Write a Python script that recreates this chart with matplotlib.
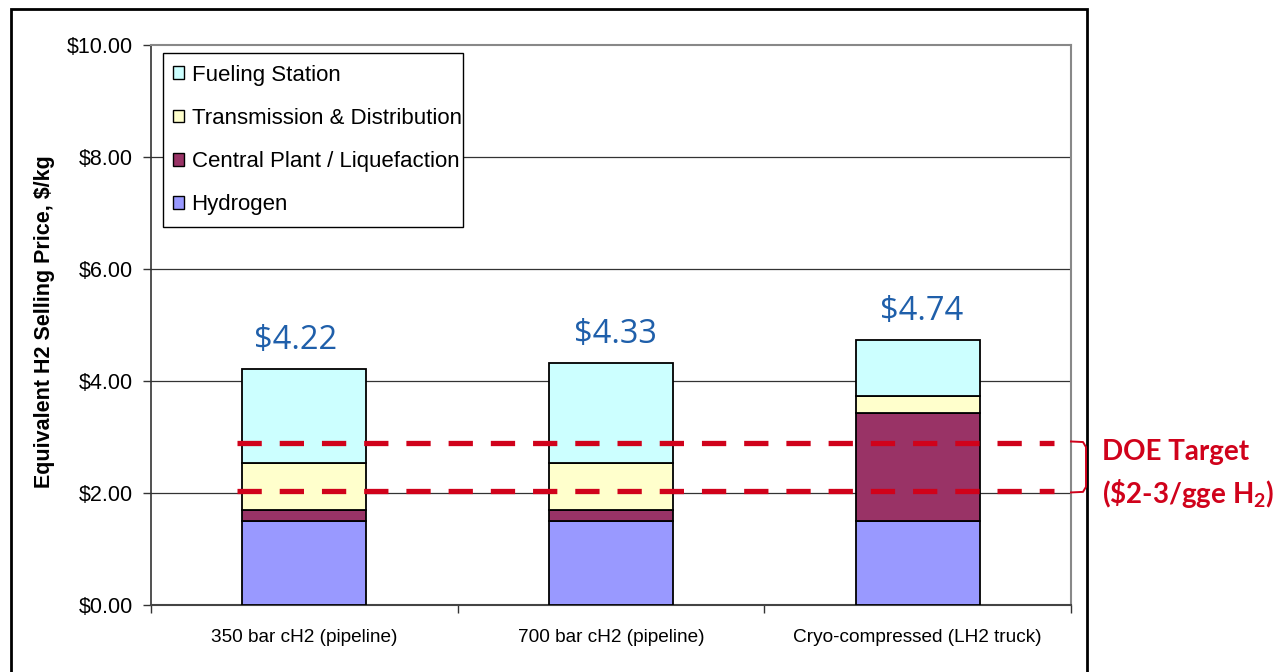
import matplotlib
matplotlib.use("Agg")
import matplotlib.pyplot as plt
from matplotlib.patches import Patch, Rectangle
from matplotlib.lines import Line2D
import matplotlib.transforms as mtransforms
import numpy as np

categories = ["350 bar cH2 (pipeline)", "700 bar cH2 (pipeline)", "Cryo-compressed (LH2 truck)"]
series_names = ["Hydrogen", "Central Plant / Liquefaction", "Transmission & Distribution", "Fueling Station"]
hydrogen = [1.50, 1.50, 1.50]
central_plant = [0.19, 0.19, 1.93]
trans_dist = [0.84, 0.84, 0.31]
fueling = [1.69, 1.80, 1.00]
totals = [4.22, 4.33, 4.74]
total_labels = ["$4.22", "$4.33", "$4.74"]
doe_target = [2.03, 2.90]
yticks = [0, 2, 4, 6, 8, 10]
ytick_labels = ["$0.00", "$2.00", "$4.00", "$6.00", "$8.00", "$10.00"]
colors = ["#9999FF", "#993366", "#FFFFCC", "#CCFFFF"]

plt.rcParams['mathtext.fontset'] = 'custom'
plt.rcParams['mathtext.rm'] = 'Lato:bold'
plt.rcParams['mathtext.it'] = 'Lato:bold'
plt.rcParams['mathtext.bf'] = 'Lato:bold'
plt.rcParams['mathtext.default'] = 'rm'

W, H = 1278, 672
fig = plt.figure(figsize=(W / 100, H / 100), dpi=100)
ax = fig.add_axes([151 / W, 1 - 605 / H, 920 / W, 560 / H])

x = np.arange(len(categories))
series = [hydrogen, central_plant, trans_dist, fueling]
bottom = np.zeros(len(categories))
for vals, c, name in zip(series, colors, series_names):
    ax.bar(x, vals, 0.405, bottom=bottom, color=c, edgecolor="black", linewidth=1.3, label=name, zorder=3)
    bottom = bottom + np.array(vals)

ax.set_xlim(-0.5, 2.5)
ax.set_ylim(0, 10)
ax.set_yticks(yticks)
ax.set_yticklabels(ytick_labels, family="Liberation Sans", fontsize=15.5)
ax.tick_params(axis="y", length=6, width=1, direction="out", pad=7, color="#333333")
ax.set_xticks(x)
ax.set_xticklabels(categories, family="Liberation Sans", fontsize=13.7)
ax.tick_params(axis="x", which="major", length=0, pad=17)
ax.set_xticks([-0.5, 0.5, 1.5, 2.5], minor=True)
ax.tick_params(axis="x", which="minor", length=6, width=1, direction="out", color="#333333")

for yv in [2, 4, 6, 8]:
    ax.axhline(yv, color="#333333", linewidth=0.9, zorder=1)

for side in ["top", "right"]:
    ax.spines[side].set_color("#888888")
    ax.spines[side].set_linewidth(1.5)
ax.spines["left"].set_color("#333333")
ax.spines["bottom"].set_color("#444444")
ax.spines["left"].set_linewidth(1.2)
ax.spines["bottom"].set_linewidth(1.5)

label_dx = [-6, 3, 3]
for xi, tot, lab, dx in zip(x, totals, total_labels, label_dx):
    ax.annotate(lab, (xi, tot), xytext=(dx, 14), textcoords="offset points", ha="center", va="baseline",
                family="Open Sans", fontsize=23.5, color="#1F5FAA", zorder=5)

# DOE target dashed lines
for yv in doe_target:
    ax.plot([-0.22, 2.445], [yv, yv], color="#D0021B", linewidth=3.8, dashes=(4.6, 3.4),
            solid_capstyle="butt", dash_capstyle="butt", clip_on=False, zorder=6)

# bracket
trans = mtransforms.blended_transform_factory(fig.transFigure, ax.transData)
bx0, bx1 = 1071 / W, 1086 / W
ylo, yhi = doe_target
br = Line2D([bx0, bx1 - 3 / W, bx1, bx1, bx1 - 3 / W, bx0],
            [yhi + 0.02, yhi + 0.01, yhi - 0.08, ylo + 0.08, ylo - 0.01, ylo - 0.02],
            transform=trans, color="#D0021B", linewidth=1.4, clip_on=False, zorder=20)

fig.text(1102 / W, 1 - 460 / H, "DOE Target", family="Lato", fontweight="bold", fontsize=20,
         color="#D0021B", ha="left", va="baseline")
fig.text(1102 / W, 1 - 503 / H, "(\\$2-3/gge H$_2$)", family="Lato", fontweight="bold", fontsize=20,
         color="#D0021B", ha="left", va="baseline")

# y label
fig.text(45 / W, 1 - 321.5 / H, "Equivalent H2 Selling Price, $/kg", rotation=90, ha="center", va="center",
         family="Liberation Sans", fontweight="bold", fontsize=15.5)

# legend box
legbox = Rectangle((12 / 920, 378 / 560), 300 / 920, 174 / 560, transform=ax.transAxes,
                   facecolor="white", edgecolor="black", linewidth=1.0, zorder=9)
ax.add_patch(legbox)

# legend
handles = [Patch(facecolor=c, edgecolor="black", linewidth=1.0) for c in colors][::-1]
leg = ax.legend(handles, series_names[::-1], loc="upper left", bbox_to_anchor=(15 / 920, 1 - 13 / 560),
                prop={"family": "Liberation Sans", "size": 16}, frameon=False,
                handlelength=0.5, handleheight=0.5, handletextpad=0.35,
                labelspacing=1.0, borderpad=0.3, borderaxespad=0)
leg.set_zorder(10)

# outer frame
frame = Rectangle((11 / W, -0.05), (1087 - 11) / W, 1.05 - 9 / H, transform=fig.transFigure,
                  fill=False, edgecolor="black", linewidth=2)
fig.add_artist(frame)
fig.add_artist(br)

fig.savefig("out.png", dpi=100)
